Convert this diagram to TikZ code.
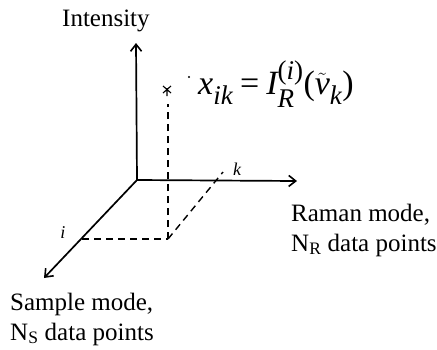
\documentclass[tikz,border=0pt]{standalone}
\usepackage{fontspec}
\usepackage{amsmath}
\setmainfont{Liberation Serif}
\DeclareMathSizes{34}{34}{27}{20}
\usetikzlibrary{arrows.meta}
\begin{document}
\begin{tikzpicture}[x=1pt,y=-1pt,
  axis/.style={line width=1.7pt,-{Straight Barb[length=7pt,width=11pt,line width=1.6pt]}},
  guide/.style={line width=1.4pt,dash pattern=on 7pt off 5pt},
  lbl/.style={font=\fontsize{25}{30}\selectfont,inner sep=0pt,anchor=base west,align=left},
  hand/.style={font=\fontsize{18}{18}\selectfont\itshape,inner sep=0pt}]
\useasboundingbox (0,0) rectangle (437,349);
% axes
\coordinate (O) at (137,180);
\coordinate (Ztop) at (136,43);
\coordinate (Xend) at (297,181);
\coordinate (Yend) at (44,278);
\draw[axis] (O) -- (Ztop);
\draw[axis] (O) -- (Xend);
\draw[axis] (O) -- (Yend);
% guide lines
\coordinate (A) at (82,239);
\coordinate (P) at (168,239);
\coordinate (K) at (223,172);
\coordinate (T) at (168,104);
\draw[guide] (A) -- (P);
\draw[guide] (P) -- (K);
\draw[guide] (P) -- (T);
% marks
\coordinate (S) at (167,90);
\draw[line width=1.1pt] ([shift={(-4,-4)}]S) -- ([shift={(4,3)}]S)
  ([shift={(4,-4)}]S) -- ([shift={(-4,3)}]S)
  ([shift={(0,-2)}]S) -- ([shift={(0,6)}]S);
\fill (189,77) circle (1.2pt);
\node[hand] (klbl) at (237,169) {k};
\node[hand] (ilbl) at (63,233) {i};
% labels
\node[lbl] (int) at (62,26) {Intensity};
\node[lbl] (raman) at (291,251) {Raman mode,\\N$_{\text{R}}$ data points};
\node[lbl] (sample) at (10,340) {Sample mode,\\N$_{\text{S}}$ data points};
\node[font=\fontsize{34}{40}\selectfont,inner sep=0pt,anchor=base west] (eq) at (198,94)
  {$\textit{x}_{\textit{ik}}\mathrel{\text{=}}\textit{I}_{\textit{R}}^{\text{(}\textit{i}\text{)}}\text{(}\tilde{\textit{ν}}_{\textit{k}}\text{)}$};
\end{tikzpicture}
\end{document}
